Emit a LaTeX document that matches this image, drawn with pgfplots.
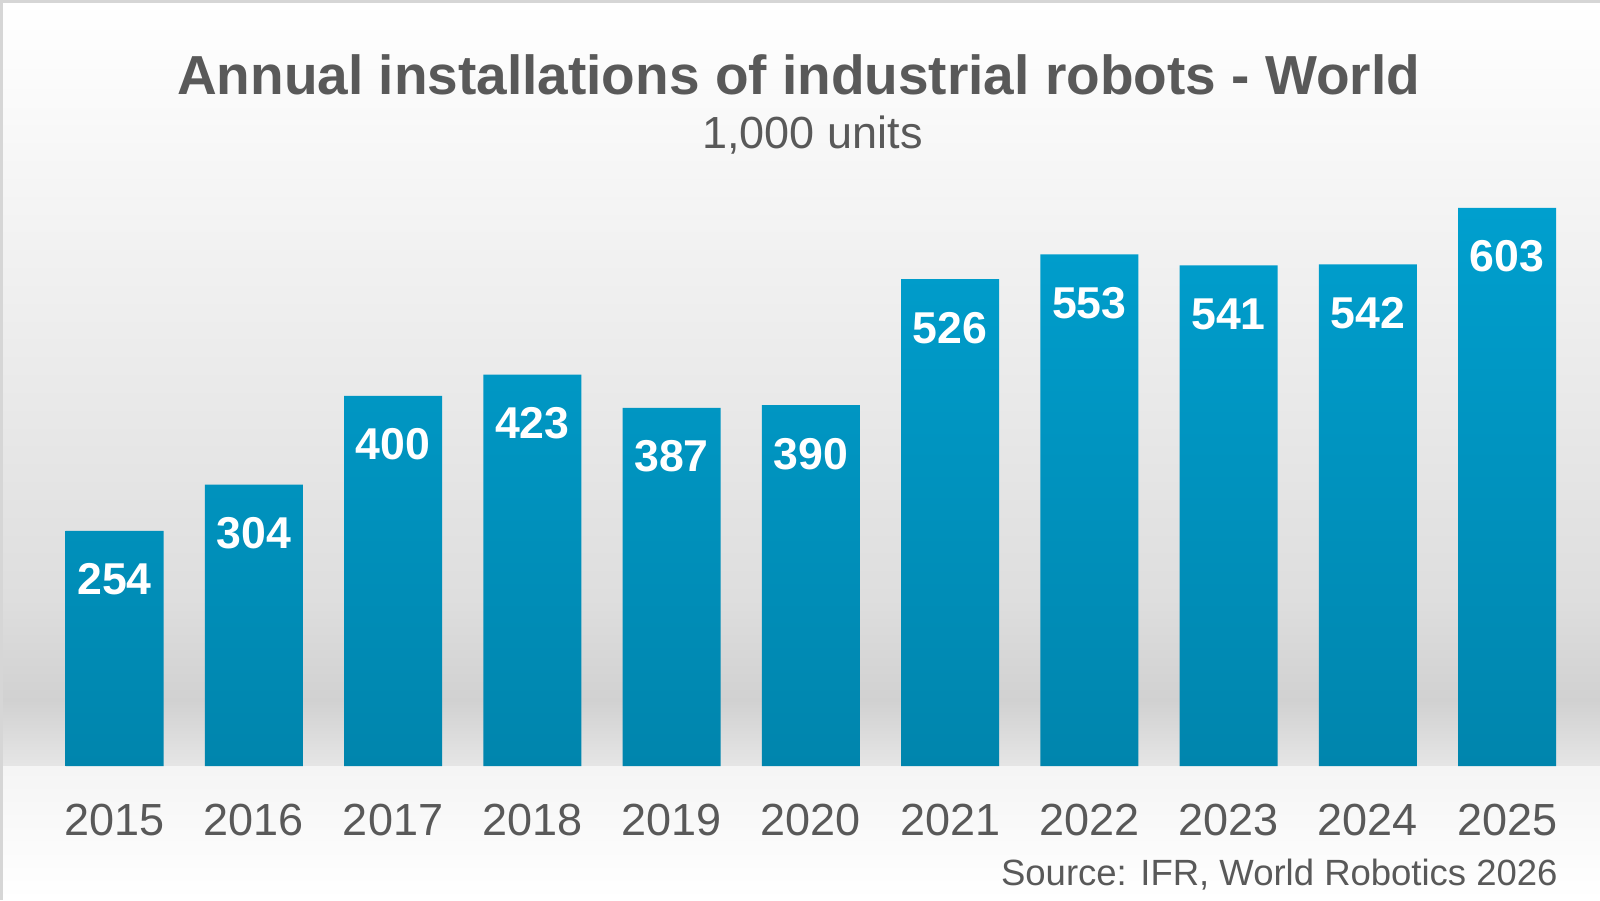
\documentclass[border=0pt]{standalone}
\usepackage{fontspec}
\setmainfont{Liberation Sans}
\usepackage{pgfplots}
\usepackage{pgfplotstable}
\pgfplotsset{compat=1.18}

\definecolor{txtgray}{HTML}{595959}
\definecolor{bartop}{HTML}{009FCE}
\definecolor{barbot}{HTML}{0085AD}

% annual installations, 1,000 units
\pgfplotstableread{
year val
2015 254
2016 304
2017 400
2018 423
2019 387
2020 390
2021 526
2022 553
2023 541
2024 542
2025 603
}\installs

\begin{document}
\begin{tikzpicture}[x=1pt,y=1pt]
\useasboundingbox (0,0) rectangle (800,450);
% backdrop: white top, grey band, shadowed floor
\fill[white] (0,0) rectangle (800,450);
\shade[top color=white, bottom color=black!2] (0,399.9) rectangle (800,450);
\shade[top color=black!2, bottom color=black!13] (0,149.9) rectangle (800,400);
\shade[top color=black!13, bottom color=black!18] (0,99.9) rectangle (800,150);
\shade[top color=black!18, bottom color=black!10] (0,66.9) rectangle (800,100);
\shade[top color=black!4, bottom color=white] (0,0) rectangle (800,67);
\fill[black!16] (0,0) rectangle (1.5,450);
\fill[black!16] (0,448.5) rectangle (800,450);

\begin{axis}[
    at={(22.45pt,67pt)}, anchor=south west,
    scale only axis,
    width=765.9pt, height=279pt,
    xmin=2014.5, xmax=2025.5,
    ymin=0, ymax=603,
    ybar, bar width=49pt,
    axis line style={draw=none},
    major tick length=0pt,
    ytick=\empty,
    xtick=data,
    xticklabels={2015,2016,2017,2018,2019,2020,2021,2022,2023,2024,2025},
    xticklabel style={font=\fontsize{22.5}{22.5}\selectfont, text=txtgray, anchor=base, yshift=-34.5pt},
    /pgf/number format/assume math mode=true,
    nodes near coords,
    every node near coord/.append style={font=\bfseries\fontsize{22.3}{22.3}\selectfont, text=white, anchor=base, yshift=-32pt},
    clip=false,
]
\addplot[draw=none, top color=bartop, bottom color=barbot] table[x=year, y=val] {\installs};
\end{axis}

\node[anchor=base, inner sep=0, text=txtgray, font=\bfseries\fontsize{27.5}{27.5}\selectfont] at (399.25,402.5) {Annual installations of industrial robots - World};
\node[anchor=base, inner sep=0, text=txtgray, font=\fontsize{22.5}{22.5}\selectfont] at (406.25,375.5) {1,000 units};
\node[anchor=base east, inner sep=0, text=txtgray, font=\fontsize{18.25}{18.25}\selectfont] at (779,7.5) {Source: IFR, World Robotics 2026};
\end{tikzpicture}
\end{document}
